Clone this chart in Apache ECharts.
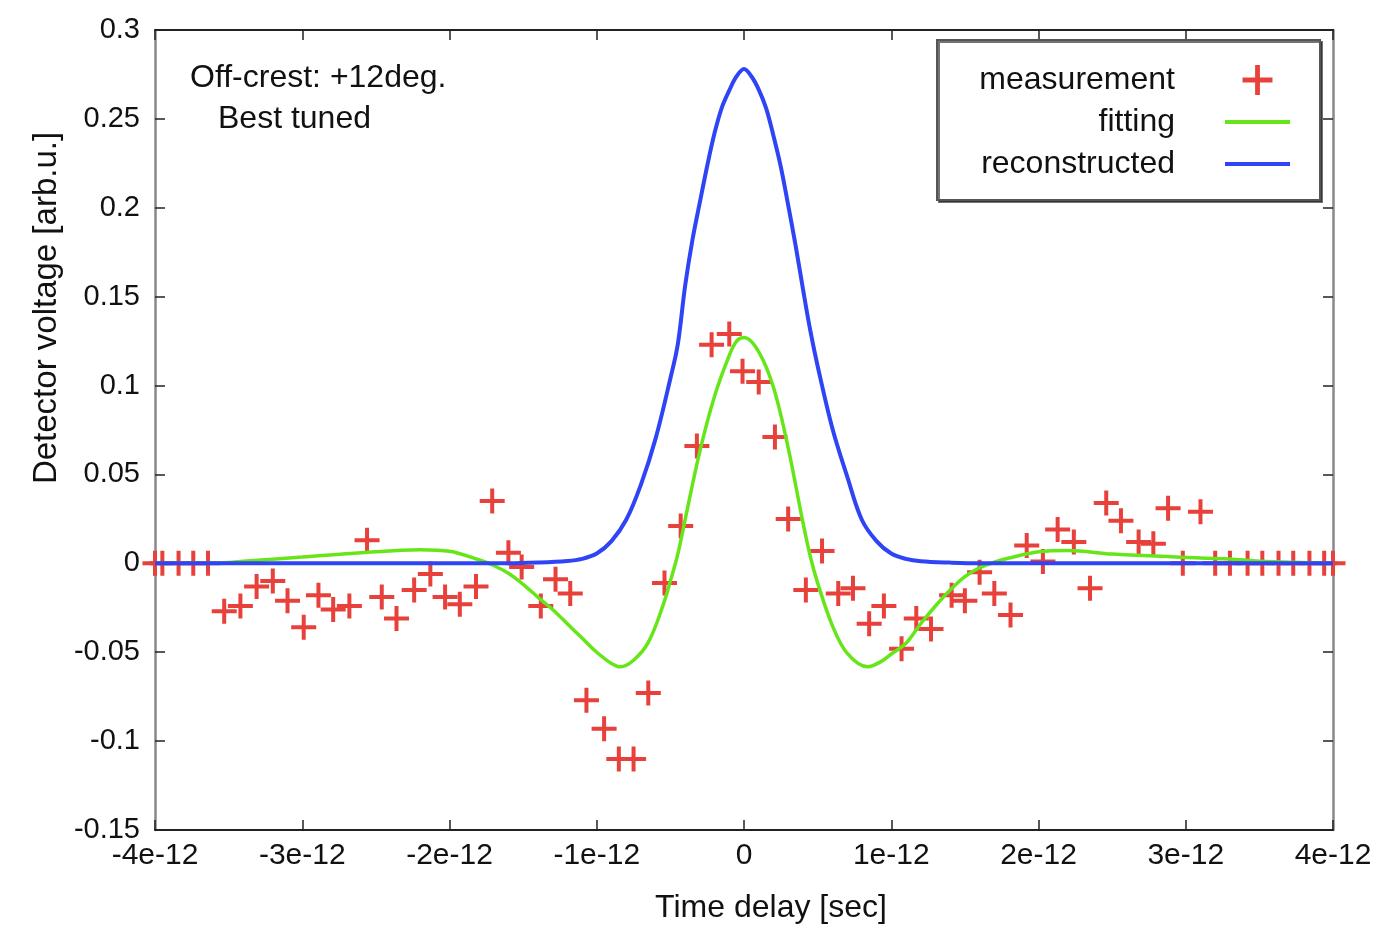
<!DOCTYPE html>
<html>
<head>
<meta charset="utf-8">
<script src="https://cdn.jsdelivr.net/npm/echarts@6/dist/echarts.min.js"></script>
<style>
    html,body{margin:0;padding:0;background:#fff;}
    #chart{width:1385px;height:929px;}
</style>
</head>
<body>
<div id="chart"></div>
<script>
// time delay in units of 1e-12 sec
var measX = [-4.0, -3.95, -3.84, -3.74, -3.64, -3.53, -3.42, -3.31, -3.20, -3.10, -2.99, -2.89, -2.79, -2.68, -2.56, -2.46, -2.36, -2.24, -2.13, -2.03, -1.93, -1.82, -1.71, -1.60, -1.51, -1.38, -1.28, -1.18, -1.07, -0.95, -0.85, -0.75, -0.65, -0.54, -0.43, -0.32, -0.22, -0.10, -0.01, 0.10, 0.21, 0.30, 0.42, 0.53, 0.64, 0.74, 0.85, 0.95, 1.07, 1.17, 1.27, 1.41, 1.50, 1.60, 1.70, 1.81, 1.92, 2.03, 2.13, 2.24, 2.35, 2.46, 2.56, 2.68, 2.78, 2.88, 2.98, 3.10, 3.20, 3.30, 3.42, 3.52, 3.63, 3.73, 3.84, 3.94, 4.0];
var measY = [0, 0, 0, 0, 0, -0.027, -0.024, -0.013, -0.010, -0.021, -0.036, -0.018, -0.026, -0.024, 0.013, -0.019, -0.031, -0.015, -0.006, -0.019, -0.023, -0.013, 0.035, 0.006, -0.002, -0.024, -0.009, -0.017, -0.077, -0.093, -0.110, -0.110, -0.073, -0.011, 0.021, 0.066, 0.123, 0.129, 0.108, 0.102, 0.071, 0.025, -0.015, 0.007, -0.017, -0.014, -0.034, -0.024, -0.048, -0.031, -0.037, -0.018, -0.021, -0.005, -0.017, -0.029, 0.010, 0.001, 0.019, 0.012, -0.014, 0.034, 0.024, 0.012, 0.011, 0.031, 0, 0.029, 0, 0, 0, 0, 0, 0, 0, 0, 0];

var fitX = [-4, -3.5, -3.4, -3.0, -2.6, -2.2, -2.0, -1.8, -1.7, -1.6, -1.5, -1.4, -1.3, -1.2, -1.1, -1.0, -0.9, -0.84, -0.75, -0.65, -0.55, -0.5, -0.45, -0.4, -0.3, -0.2, -0.1, -0.05, 0, 0.1, 0.2, 0.3, 0.4, 0.45, 0.5, 0.6, 0.7, 0.84, 0.93, 1.0, 1.1, 1.2, 1.3, 1.4, 1.5, 1.6, 1.7, 1.8, 2.0, 2.2, 2.5, 2.9, 3.3, 3.5, 4];
var fitY = [0, 0.0005, 0.0012, 0.0035, 0.006, 0.0077, 0.0068, 0.002, -0.0012, -0.0056, -0.0118, -0.019, -0.026, -0.034, -0.042, -0.050, -0.0563, -0.0582, -0.0545, -0.0445, -0.0237, -0.010, 0.005, 0.0245, 0.063, 0.094, 0.117, 0.125, 0.127, 0.119, 0.099, 0.065, 0.023, 0.004, -0.011, -0.035, -0.0505, -0.0582, -0.0553, -0.051, -0.045, -0.034, -0.024, -0.015, -0.0075, -0.0025, 0.0006, 0.003, 0.0065, 0.0072, 0.0052, 0.0037, 0.0024, 0.0012, 0];

var recX = [-4, -1.6, -1.4, -1.2, -1.1, -1.0, -0.9, -0.8, -0.7, -0.6, -0.5, -0.45, -0.4, -0.35, -0.3, -0.25, -0.2, -0.15, -0.1, -0.05, 0, 0.05, 0.1, 0.15, 0.2, 0.25, 0.3, 0.35, 0.4, 0.45, 0.5, 0.6, 0.7, 0.8, 0.9, 1.0, 1.1, 1.2, 1.4, 1.6, 4];
var recY = [0, 0, 0.0004, 0.0013, 0.0025, 0.0055, 0.0125, 0.0245, 0.0443, 0.0703, 0.104, 0.123, 0.156, 0.182, 0.203, 0.2235, 0.242, 0.2565, 0.266, 0.274, 0.278, 0.274, 0.2665, 0.256, 0.2405, 0.223, 0.2015, 0.179, 0.1545, 0.131, 0.111, 0.076, 0.049, 0.0245, 0.0125, 0.0055, 0.0025, 0.0012, 0.0004, 0, 0];

var xTicks = ['-4e-12', '-3e-12', '-2e-12', '-1e-12', '0', '1e-12', '2e-12', '3e-12', '4e-12'];

function pairs(xs, ys){
    return xs.map(function(x, i){ return [x, ys[i]]; });
}

var plus = 'path://M42,0H58V42H100V58H58V100H42V58H0V42H42Z';
var bar = 'path://M0,0H100V6H0Z';
var font = 'Liberation Sans';

var myChart = echarts.init(document.getElementById('chart'));
myChart.setOption({
    animation: false,
    textStyle: { fontFamily: font, color: '#111' },
    grid: { left: 155, right: 52, top: 30, bottom: 93 },
    legend: {
        orient: 'vertical',
        right: 65,
        top: 40,
        align: 'right',
        itemWidth: 65,
        itemHeight: 30,
        itemGap: 10,
        padding: [24, 30, 20, 18],
        borderColor: '#555',
        borderWidth: 2,
        backgroundColor: '#fff',
        shadowColor: 'rgba(0,0,0,0.55)',
        shadowOffsetX: 2,
        shadowOffsetY: 2,
        shadowBlur: 0,
        selectedMode: false,
        textStyle: { fontFamily: font, fontSize: 32, color: '#111', width: 220, align: 'right', padding: [0, 45, 0, 0], lineHeight: 30 },
        data: [
            { name: 'measurement', icon: plus },
            { name: 'fitting', icon: bar },
            { name: 'reconstructed', icon: bar }
        ]
    },
    graphic: [
        { type: 'text', left: 190, top: 62, style: { text: 'Off-crest: +12deg.', font: '32px "Liberation Sans"', fill: '#111' } },
        { type: 'text', left: 218, top: 103, style: { text: 'Best tuned', font: '32px "Liberation Sans"', fill: '#111' } }
    ],
    xAxis: [
        {
            type: 'value', position: 'bottom', min: -4, max: 4, interval: 1,
            name: 'Time delay [sec]', nameLocation: 'middle', nameGap: 62,
            nameTextStyle: { fontSize: 32, color: '#111', padding: [0, 0, 0, 54] },
            axisLine: { onZero: false, lineStyle: { color: '#222', width: 2 } },
            axisTick: { inside: true, length: 10, lineStyle: { color: '#222', width: 1.5 } },
            axisLabel: {
                fontSize: 30, color: '#111', margin: 11,
                formatter: function(v){ return xTicks[Math.round(v) + 4]; }
            },
            splitLine: { show: false }
        },
        {
            type: 'value', position: 'top', min: -4, max: 4, interval: 1,
            axisLine: { onZero: false, lineStyle: { color: '#222', width: 2 } },
            axisTick: { inside: true, length: 10, lineStyle: { color: '#222', width: 1.5 } },
            axisLabel: { show: false },
            splitLine: { show: false }
        }
    ],
    yAxis: [
        {
            type: 'value', position: 'left', min: -0.15, max: 0.3, interval: 0.05,
            name: 'Detector voltage [arb.u.]', nameLocation: 'middle', nameGap: 90,
            nameTextStyle: { fontSize: 33, color: '#111', padding: [0, 0, 0, 244] },
            axisLine: { onZero: false, lineStyle: { color: '#888', width: 2.5 } },
            axisTick: { inside: true, length: 10, lineStyle: { color: '#222', width: 1.5 } },
            axisLabel: {
                fontSize: 29, color: '#111', margin: 15,
                formatter: function(v){ return String(parseFloat(v.toFixed(2))); }
            },
            splitLine: { show: false }
        },
        {
            type: 'value', position: 'right', min: -0.15, max: 0.3, interval: 0.05,
            axisLine: { onZero: false, lineStyle: { color: '#888', width: 2.5 } },
            axisTick: { inside: true, length: 10, lineStyle: { color: '#222', width: 1.5 } },
            axisLabel: { show: false },
            splitLine: { show: false }
        }
    ],
    series: [
        {
            name: 'measurement',
            type: 'scatter',
            symbol: plus,
            symbolSize: 25,
            itemStyle: { color: '#e8403a', opacity: 1 },
            data: pairs(measX, measY)
        },
        {
            name: 'fitting',
            type: 'line',
            showSymbol: false,
            symbol: 'none',
            smooth: 0.35,
            lineStyle: { color: '#66e619', width: 3.5 },
            itemStyle: { color: '#66e619' },
            data: pairs(fitX, fitY)
        },
        {
            name: 'reconstructed',
            type: 'line',
            showSymbol: false,
            symbol: 'none',
            smooth: 0.35,
            lineStyle: { color: '#2f44f4', width: 4 },
            itemStyle: { color: '#2f44f4' },
            data: pairs(recX, recY)
        }
    ]
});
</script>
</body>
</html>
